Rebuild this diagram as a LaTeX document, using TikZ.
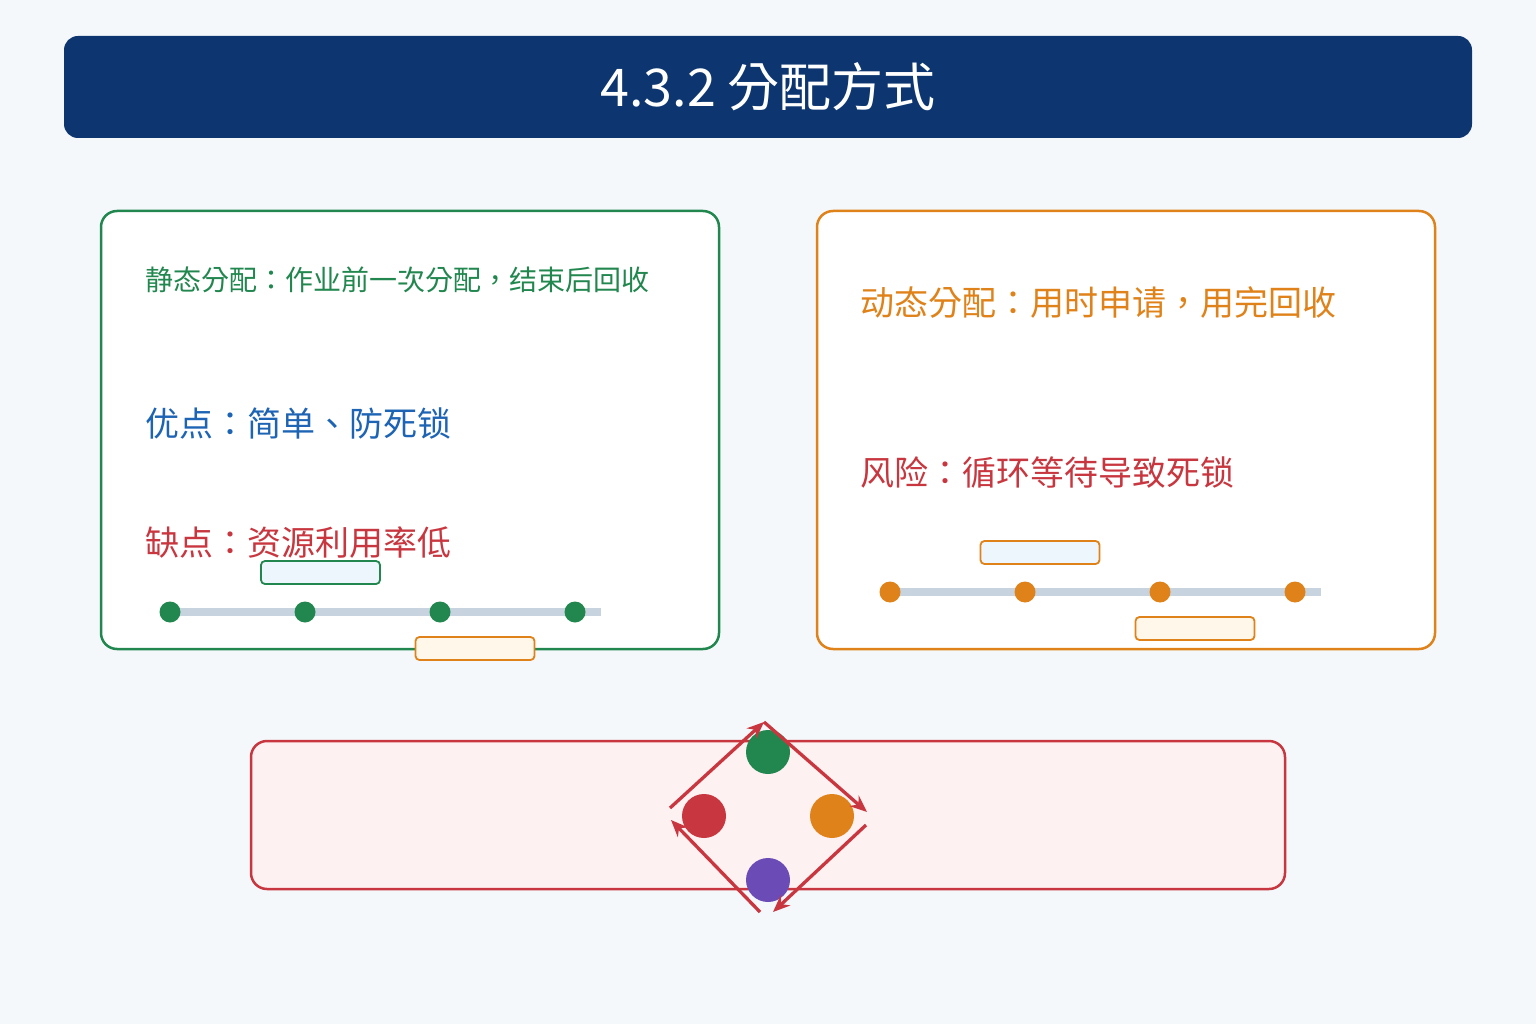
\documentclass[tikz,border=0pt]{standalone}
\usepackage{fontspec}
\newfontfamily\cjk{Noto Sans CJK TC}
\usetikzlibrary{arrows.meta}
\definecolor{bgc}{HTML}{F4F8FB}
\definecolor{navy}{HTML}{0D3670}
\definecolor{green}{HTML}{22874F}
\definecolor{orange}{HTML}{E0821A}
\definecolor{red}{HTML}{C8373F}
\definecolor{purple}{HTML}{6B4BB5}
\definecolor{blue}{HTML}{1E64B4}
\definecolor{track}{HTML}{C8D3E0}
\definecolor{iceblue}{HTML}{EEF6FD}
\definecolor{cream}{HTML}{FEF7EA}
\definecolor{pink}{HTML}{FEF1F2}

\begin{document}
\begin{tikzpicture}[x=1pt, y=-1pt,
    panel/.style={draw, line width=2.5pt, rounded corners=16pt, fill=white, inner sep=0pt},
    slot/.style={draw, line width=1.8pt, rounded corners=4pt, inner sep=0pt, minimum width=119pt, minimum height=23pt},
    dot/.style={circle, inner sep=0pt, minimum size=21pt},
    ball/.style={circle, inner sep=0pt, minimum size=44pt},
    txt/.style={anchor=west, inner sep=0pt, font=\cjk\fontsize{34}{40}\selectfont},
    rail/.style={line width=8pt, track},
    cyc/.style={line width=3.3pt, red, -{Stealth[length=17pt, width=14pt]}}]

    % Background
    \fill[bgc] (0,0) rectangle (1536,1024);

    % Title bar
    \node[fill=navy, rounded corners=14pt, minimum width=1408pt, minimum height=102pt, text=white,
          font=\cjk\fontsize{52}{60}\selectfont] (title) at (768,87) {4.3.2 分配方式};

    % Static allocation panel
    \node[panel, draw=green, minimum width=618pt, minimum height=438pt] (static) at (410,430) {};
    \node[txt, text=green, font=\cjk\fontsize{28}{34}\selectfont] (sdef) at (145,280) {静态分配：作业前一次分配，结束后回收};
    \node[txt, text=blue] (spro) at (145,423) {优点：简单、防死锁};
    \node[txt, text=red] (scon) at (145,543) {缺点：资源利用率低};

    % Static timeline
    \coordinate (sstart) at (170,612);
    \coordinate (send) at (601,612);
    \draw[rail] (sstart) -- (send);
    \foreach \i in {0,1,2,3} {
        \node[dot, fill=green] (sd\i) at (170+135*\i, 612) {};
    }
    \node[slot, draw=green, fill=iceblue] (sjob) at (320.5,572.5) {};
    \node[slot, draw=orange, fill=cream] (sfree) at (475,648.5) {};

    % Dynamic allocation panel
    \node[panel, draw=orange, minimum width=618pt, minimum height=438pt] (dynamic) at (1126,430) {};
    \node[txt, text=orange] (ddef) at (860,303) {动态分配：用时申请，用完回收};
    \node[txt, text=red] (drisk) at (860,473) {风险：循环等待导致死锁};

    % Dynamic timeline
    \coordinate (dstart) at (890,592);
    \coordinate (dend) at (1321,592);
    \draw[rail] (dstart) -- (dend);
    \foreach \i in {0,1,2,3} {
        \node[dot, fill=orange] (dd\i) at (890+135*\i, 592) {};
    }
    \node[slot, draw=orange, fill=iceblue] (dreq) at (1040,552.5) {};
    \node[slot, draw=orange, fill=cream] (drel) at (1195,628.5) {};

    % Deadlock panel
    \node[panel, draw=red, fill=pink, minimum width=1034pt, minimum height=148pt] (dead) at (768,815) {};

    % Processes in the wait cycle
    \node[ball, fill=green] (pg) at (768,752) {};
    \node[ball, fill=orange] (po) at (832,816) {};
    \node[ball, fill=purple] (pp) at (768,880) {};
    \node[ball, fill=red] (pr) at (704,816) {};

    % Wait-for arrows
    \coordinate (c1) at (670,808);
    \coordinate (c2) at (764,722);
    \coordinate (c3) at (867,812);
    \coordinate (c4) at (866,825);
    \coordinate (c5) at (773,912);
    \coordinate (c6) at (760,912);
    \coordinate (c7) at (671,820);
    \draw[cyc] (c1) -- (c2);
    \draw[cyc] (c2) -- (c3);
    \draw[cyc] (c4) -- (c5);
    \draw[cyc] (c6) -- (c7);
\end{tikzpicture}
\end{document}
